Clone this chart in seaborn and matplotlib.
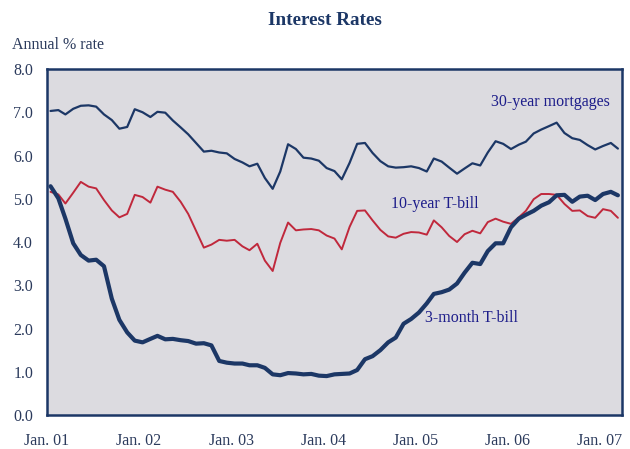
import pandas as pd
import matplotlib
matplotlib.use("Agg")
import matplotlib.pyplot as plt
import seaborn as sns

# monthly averages, Jan 2001 - Mar 2007
mortgage_30y = [7.03, 7.05, 6.95, 7.08, 7.15, 7.16, 7.13, 6.95, 6.82, 6.62, 6.66, 7.07,
                7.00, 6.89, 7.01, 6.99, 6.81, 6.65, 6.49, 6.29, 6.09, 6.11, 6.07, 6.05,
                5.92, 5.84, 5.75, 5.81, 5.48, 5.23, 5.63, 6.26, 6.15, 5.95, 5.93, 5.88,
                5.71, 5.64, 5.45, 5.83, 6.27, 6.29, 6.06, 5.87, 5.75, 5.72, 5.73, 5.75,
                5.71, 5.63, 5.93, 5.86, 5.72, 5.58, 5.70, 5.82, 5.77, 6.07, 6.33, 6.27,
                6.15, 6.25, 6.32, 6.51, 6.60, 6.68, 6.76, 6.52, 6.40, 6.36, 6.24, 6.14,
                6.22, 6.29, 6.16]
tbill_10y = [5.16, 5.10, 4.89, 5.14, 5.39, 5.28, 5.24, 4.97, 4.73, 4.57, 4.65, 5.09,
             5.04, 4.91, 5.28, 5.21, 5.16, 4.93, 4.65, 4.26, 3.87, 3.94, 4.05, 4.03,
             4.05, 3.90, 3.81, 3.96, 3.57, 3.33, 3.98, 4.45, 4.27, 4.29, 4.30, 4.27,
             4.15, 4.08, 3.83, 4.35, 4.72, 4.73, 4.50, 4.28, 4.13, 4.10, 4.19, 4.23,
             4.22, 4.17, 4.50, 4.34, 4.14, 4.00, 4.18, 4.26, 4.20, 4.46, 4.54, 4.47,
             4.42, 4.57, 4.72, 4.99, 5.11, 5.11, 5.09, 4.88, 4.72, 4.73, 4.60, 4.56,
             4.76, 4.72, 4.56]
tbill_3m = [5.29, 5.01, 4.54, 3.97, 3.70, 3.57, 3.59, 3.44, 2.69, 2.20, 1.91, 1.72,
            1.68, 1.76, 1.83, 1.75, 1.76, 1.73, 1.71, 1.65, 1.66, 1.61, 1.25, 1.21,
            1.19, 1.19, 1.15, 1.15, 1.09, 0.94, 0.92, 0.97, 0.96, 0.94, 0.95, 0.91,
            0.90, 0.94, 0.95, 0.96, 1.04, 1.29, 1.36, 1.50, 1.68, 1.79, 2.11, 2.22,
            2.37, 2.58, 2.80, 2.84, 2.90, 3.04, 3.29, 3.52, 3.49, 3.79, 3.97, 3.97,
            4.34, 4.54, 4.63, 4.72, 4.84, 4.92, 5.08, 5.09, 4.93, 5.05, 5.07, 4.97,
            5.11, 5.16, 5.08]
year_labels = ["Jan. 01", "Jan. 02", "Jan. 03", "Jan. 04", "Jan. 05", "Jan. 06", "Jan. 07"]

months = pd.date_range("2001-01-01", periods=len(tbill_3m), freq="MS") + pd.Timedelta(days=14)
df = pd.DataFrame({"date": months, "m30": mortgage_30y, "t10": tbill_10y, "t3": tbill_3m})

navy = "#1c3766"
red = "#c0283c"
label_blue = "#1d1d8a"
tick_col = "#2b3a5c"

sns.set_theme(style="white")
plt.rcParams["font.family"] = ["Liberation Serif", "DejaVu Serif"]

fig = plt.figure(figsize=(6.3, 4.49), dpi=100)
ax = fig.add_axes([0.0746, 0.0757, 0.913, 0.7706])
ax.set_facecolor("#dcdbe0")

sns.lineplot(data=df, x="date", y="m30", ax=ax, color=navy, linewidth=1.6)
sns.lineplot(data=df, x="date", y="t10", ax=ax, color=red, linewidth=1.4)
sns.lineplot(data=df, x="date", y="t3", ax=ax, color=navy, linewidth=3.0)

ax.set_xlim(pd.Timestamp("2001-01-01"), pd.Timestamp("2007-04-01"))
ax.set_ylim(0, 8)
ax.set_yticks(range(0, 9))
ax.set_yticklabels([f"{v:.1f}" for v in range(0, 9)])
ax.set_xticks(pd.date_range("2001-01-01", periods=7, freq="YS"))
ax.set_xticklabels(year_labels)
ax.set_xlabel("")
ax.set_ylabel("")

for s in ax.spines.values():
    s.set_color(navy)
    s.set_linewidth(1.8)
ax.tick_params(axis="both", direction="in", length=4, width=1.4, color=navy,
               labelsize=11.5, labelcolor=tick_col)
ax.tick_params(axis="y", pad=10)
ax.tick_params(axis="x", pad=13)

ax.text(0.772, 0.905, "30-year mortgages", transform=ax.transAxes, fontsize=11.5,
        color=label_blue, va="center", ha="left")
ax.text(0.598, 0.61, "10-year T-bill", transform=ax.transAxes, fontsize=11.5,
        color=label_blue, va="center", ha="left")
ax.text(0.657, 0.28, "3-month T-bill", transform=ax.transAxes, fontsize=11.5,
        color=label_blue, va="center", ha="left")

fig.text(0.516, 0.955, "Interest Rates", ha="center", va="center", fontsize=13.8,
         fontweight="bold", color=navy)
fig.text(0.019, 0.9, "Annual % rate", ha="left", va="center", fontsize=11.5,
         color=tick_col)

fig.savefig("out.png", dpi=100)
